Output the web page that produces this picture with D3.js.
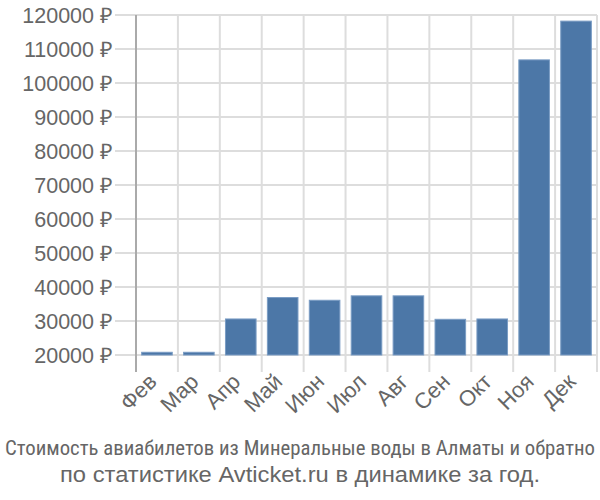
<!DOCTYPE html>
<html><head><meta charset="utf-8">
<script src="https://cdn.jsdelivr.net/npm/d3@7"></script>
<style>body{margin:0;background:#fff}svg{display:block}</style>
</head><body>
<svg id="c" width="600" height="500"></svg>
<script>
const months = ["Фев","Мар","Апр","Май","Июн","Июл","Авг","Сен","Окт","Ноя","Дек"];
const prices = [20800,20800,30600,36900,36100,37400,37400,30500,30600,106800,118200];
const yTicks = [20000,30000,40000,50000,60000,70000,80000,90000,100000,110000,120000];
const caption1 = "Стоимость авиабилетов из Минеральные воды в Алматы и обратно";
const caption2 = "по статистике Avticket.ru в динамике за год.";

(function () {
const svg = d3.select("#c");
const pL = 136, pR = 597, pT = 15, pB = 372;
const x = d3.scaleBand().domain(months).range([pL, pR]).paddingInner(0.27).paddingOuter(0.135);
const xg = d3.scaleBand().domain(months).range([pL, pR]);
const y = d3.scaleLinear().domain([15000, 120000]).range([pB, pT]);

svg.append("g").selectAll("line").data(yTicks).join("line")
  .attr("x1", 115).attr("x2", pR).attr("y1", d => y(d)).attr("y2", d => y(d))
  .attr("stroke", "#ddd").attr("stroke-width", 2);
svg.append("g").selectAll("line").data(months).join("line")
  .attr("x1", d => xg(d) + xg.bandwidth()).attr("x2", d => xg(d) + xg.bandwidth())
  .attr("y1", pT).attr("y2", pB)
  .attr("stroke", "#ddd").attr("stroke-width", 2);
svg.append("line").attr("x1", pL).attr("x2", pL).attr("y1", pT).attr("y2", pB)
  .attr("stroke", "#aaa").attr("stroke-width", 2);

svg.append("g").selectAll("rect").data(prices).join("rect")
  .attr("x", (d, i) => x(months[i]))
  .attr("width", x.bandwidth())
  .attr("y", d => y(d))
  .attr("height", d => y(20000) - y(d))
  .attr("fill", "#4c77a7").attr("stroke", "#7a9cc4").attr("stroke-width", 1);

svg.append("g").selectAll("text").data(yTicks).join("text")
  .attr("x", 113).attr("y", d => y(d)).attr("dy", "0.36em")
  .attr("text-anchor", "end")
  .attr("font-family", "'Liberation Sans', Arial, sans-serif").attr("font-size", 21.5).attr("fill", "#666")
  .text(d => d + " ₽");

svg.append("g").selectAll("text").data(months).join("text")
  .attr("transform", d => `translate(${x(d) + x.bandwidth()/2 + 1},${383}) rotate(-45)`)
  .attr("text-anchor", "end")
  .attr("font-family", "'Liberation Sans', Arial, sans-serif").attr("font-size", 22).attr("fill", "#666")
  .text(d => d);

svg.append("text").attr("x", 300).attr("y", 455).attr("text-anchor", "middle")
  .attr("font-family", "'Liberation Sans Narrow', 'Roboto Condensed', sans-serif").attr("font-size", 21)
  .attr("fill", "#666").attr("textLength", 590).attr("lengthAdjust", "spacingAndGlyphs")
  .text(caption1);
svg.append("text").attr("x", 300).attr("y", 482).attr("text-anchor", "middle")
  .attr("font-family", "'Liberation Sans', Arial, sans-serif").attr("font-size", 22)
  .attr("fill", "#666").attr("textLength", 480).attr("lengthAdjust", "spacingAndGlyphs")
  .text(caption2);
})();
</script>
</body></html>
